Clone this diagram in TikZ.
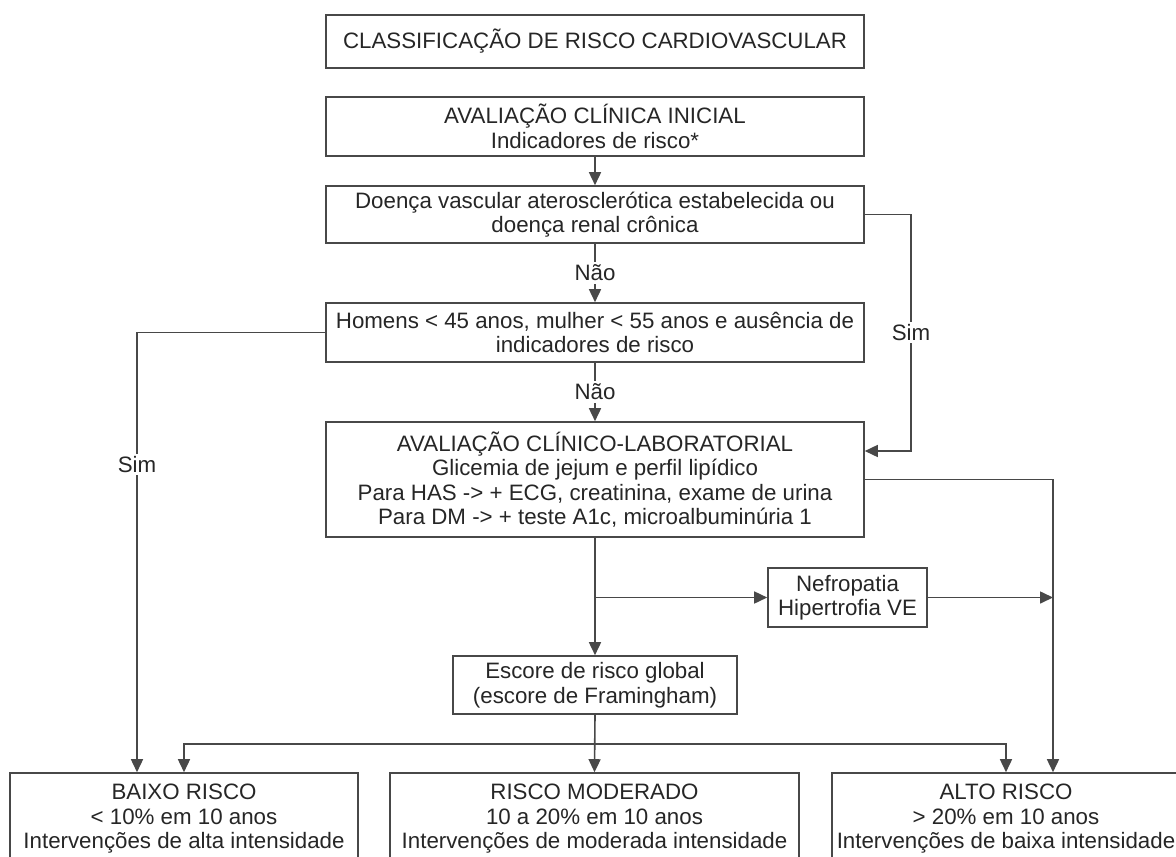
\documentclass[tikz,border=0pt]{standalone}
\usepackage{fontspec}
\setmainfont{Liberation Sans}
\usetikzlibrary{arrows.meta}
\definecolor{linec}{HTML}{484848}
\definecolor{textc}{HTML}{262626}
\begin{document}
\begin{tikzpicture}[x=1pt,y=-1pt,
  box/.style={draw=linec, line width=1.6pt, align=center, inner sep=0pt, text=textc,
    font=\fontsize{22.3}{24.5}\selectfont},
  lbl/.style={fill=white, inner sep=2.5pt, text=textc, font=\fontsize{22.3}{24.5}\selectfont},
  conn/.style={draw=linec, line width=1.6pt},
  arr/.style={conn, -{Triangle[length=13pt,width=12pt]}}]
\clip (0,0) rectangle (1176,857);
\fill[white] (0,0) rectangle (1176,857);

\node[box, minimum width=538pt, minimum height=53pt] (title) at (595,41.5)
  {CLASSIFICAÇÃO DE RISCO CARDIOVASCULAR};
\node[box, minimum width=538pt, minimum height=59pt] (eval1) at (595,126.5)
  {AVALIAÇÃO CLÍNICA INICIAL\\Indicadores de risco*};
\node[box, minimum width=538pt, minimum height=57pt] (doenca) at (595,214.5)
  {Doença vascular aterosclerótica estabelecida ou\\doença renal crônica};
\node[box, minimum width=538pt, minimum height=59pt] (homens) at (595,332.5)
  {Homens < 45 anos, mulher < 55 anos e ausência de\\indicadores de risco};
\node[box, minimum width=538pt, minimum height=115pt] (lab) at (595,479.5)
  {AVALIAÇÃO CLÍNICO-LABORATORIAL\\Glicemia de jejum e perfil lipídico\\Para HAS -> + ECG, creatinina, exame de urina\\Para DM -> + teste A1c, microalbuminúria 1};
\node[box, minimum width=159pt, minimum height=59pt] (nefro) at (847.5,597.5)
  {Nefropatia\\Hipertrofia VE};
\node[box, minimum width=284pt, minimum height=58pt] (escore) at (595,685)
  {Escore de risco global\\(escore de Framingham)};
\node[box, minimum width=348pt, minimum height=92pt] (baixo) at (184,819)
  {BAIXO RISCO\\< 10\% em 10 anos\\Intervenções de alta intensidade};
\node[box, minimum width=409pt, minimum height=92pt] (moderado) at (594.5,819)
  {RISCO MODERADO\\10 a 20\% em 10 anos\\Intervenções de moderada intensidade};
\node[box, minimum width=348pt, minimum height=92pt] (alto) at (1006,819)
  {ALTO RISCO\\> 20\% em 10 anos\\Intervenções de baixa intensidade};

% main vertical flow
\draw[arr] (eval1.south) -- (doenca.north);
\draw[arr] (doenca.south) -- node[lbl]{Não} (homens.north);
\draw[arr] (homens.south) -- node[lbl]{Não} (lab.north);

% right "Sim" branch
\coordinate (simR) at (911,214.5);
\coordinate (simRb) at (911,451);
\draw[arr] (doenca.east) -- (simR) -- node[lbl]{Sim} (simRb) -- (simRb -| lab.east);

% left "Sim" branch
\coordinate (simL) at (137,332.5);
\draw[arr] (homens.west) -- (simL) -- node[lbl, pos=0.3]{Sim} (simL |- baixo.north);

% lab to alto risco
\coordinate (rx) at (1053,479.5);
\draw[arr] (lab.east) -- (rx) -- (rx |- alto.north);

% lab to escore and nefro
\draw[arr] (lab.south) -- (escore.north);
\draw[arr] (lab.south |- nefro.west) -- (nefro.west);
\draw[arr] (nefro.east) -- (rx |- nefro.east);

% escore to the three risk classes
\coordinate (hb) at (595,744);
\draw[arr] (escore.south) -- (moderado.north);
\draw[arr] (hb) -| (baixo.north);
\draw[arr] (hb) -| (alto.north);
\end{tikzpicture}
\end{document}
